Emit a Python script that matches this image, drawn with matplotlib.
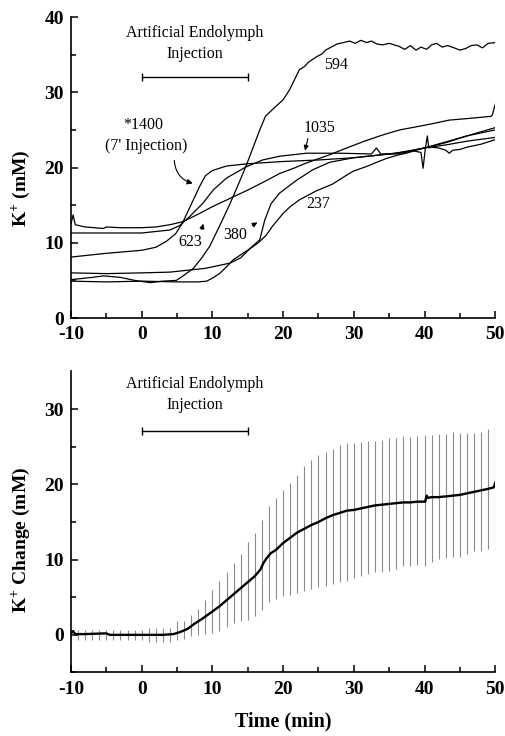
import numpy as np
import matplotlib
matplotlib.use("Agg")
import matplotlib.pyplot as plt

plt.rcParams['font.family'] = ['Liberation Serif', 'DejaVu Serif']
plt.rcParams['mathtext.fontset'] = 'custom'
plt.rcParams['mathtext.rm'] = 'Liberation Serif'
plt.rcParams['mathtext.bf'] = 'Liberation Serif:bold'
plt.rcParams['axes.unicode_minus'] = False

# ---- top panel: individual K+ traces (min, mM) ----
t_1400 = [-10, -5, 0, 2, 3.5, 4.8, 5.8, 7.3, 8.2, 9, 10, 12, 15, 20, 25, 30, 35, 38, 40, 43, 46, 50]
k_1400 = [8.1, 8.6, 9.0, 9.4, 10.2, 11.2, 12.7, 15.7, 17.5, 18.9, 19.6, 20.2, 20.5, 20.8, 21.0, 21.3,
          21.8, 22.2, 22.6, 23.3, 24.2, 25.3]

t_1035 = [-10, -5, 0, 4, 5.4, 6.8, 8.7, 10.1, 12, 14.8, 17.1, 19.5, 23.3, 28, 32.5, 33.2, 33.8, 36,
          38, 40, 43, 46, 50]
k_1035 = [11.3, 11.3, 11.3, 11.7, 12.3, 13.5, 15.3, 17.0, 18.6, 20.1, 21.0, 21.5, 21.9, 21.9, 21.8,
          22.6, 21.8, 21.8, 22.1, 22.6, 23.0, 23.5, 24.0]

t_623 = [-10, -9.7, -9.4, -8, -5.4, -5, -3, 0, 2, 4, 5.8, 8, 10, 12.5, 15, 17.5, 19.5, 21.5, 23.3,
         26.6, 29, 31.5, 34, 36.5, 38.8, 41, 43.5, 46, 49.4, 49.6, 50]
k_623 = [12.5, 13.7, 12.4, 12.1, 11.9, 12.1, 12.0, 12.0, 12.1, 12.4, 12.8, 13.8, 14.8, 15.9, 17.0,
         18.2, 19.2, 19.9, 20.6, 21.7, 22.6, 23.5, 24.3, 25.0, 25.4, 25.8, 26.3, 26.5, 26.8, 27.0, 28.4]

t_594 = [-10, -7, -5.4, -3, -1, 1.2, 3, 4.9, 6, 7.3, 8.5, 9.6, 11, 12.4, 13.6, 14.8, 16.7, 17.5,
         18.6, 20, 20.9, 22.3, 23, 23.6, 24.7, 25.5, 26, 27, 27.6, 28.5, 29.4, 30.2, 31, 31.8, 32.5,
         33.3, 34.1, 35, 36.4, 37.2, 38, 38.8, 39.5, 40.3, 41, 41.7, 42.5, 43.3, 44.2, 45, 45.8,
         46.6, 47.4, 48.2, 49, 50]
k_594 = [5.1, 5.4, 5.6, 5.4, 5.0, 4.7, 4.9, 5.0, 5.7, 6.6, 8.0, 9.5, 12.2, 15.0, 17.6, 20.3, 25.0,
         26.8, 27.8, 29.0, 30.3, 33.0, 33.4, 34.0, 34.7, 35.1, 35.6, 36.1, 36.4, 36.6, 36.8, 36.5,
         36.9, 36.6, 36.8, 36.4, 36.3, 36.5, 36.1, 35.7, 36.2, 35.6, 36.0, 35.7, 36.3, 36.5, 36.0,
         36.2, 35.9, 35.6, 35.8, 36.2, 36.3, 35.9, 36.5, 36.6]

t_380 = [-10, -5, 0, 4, 7, 9, 11, 12.5, 14, 15.5, 16.7, 17.4, 18.3, 19.5, 21.9, 24.2, 26.6, 30,
         33, 36, 40, 43, 46, 50]
k_380 = [6.0, 5.9, 6.0, 6.1, 6.4, 6.6, 7.0, 7.3, 8.0, 9.4, 10.4, 13.0, 15.2, 16.6, 18.3, 19.7,
         20.7, 21.3, 21.6, 21.9, 22.6, 23.4, 24.2, 25.0]

t_237 = [-10, -5, 0, 5, 8, 9.2, 10, 11, 12, 12.9, 14, 15.3, 16.5, 17.6, 18.5, 20, 21, 22.3, 23.5,
         24.7, 26, 27, 28.5, 29.9, 31.7, 33, 34.6, 36, 37.4, 38.5, 39.5, 39.8, 40.1, 40.4, 40.6, 41,
         42, 43, 43.5, 44, 45, 46, 47, 48, 49, 50]
k_237 = [4.9, 4.8, 4.9, 4.8, 4.8, 4.9, 5.3, 5.9, 6.8, 7.7, 8.4, 9.2, 10.0, 11.0, 12.2, 13.9, 14.8,
         15.7, 16.3, 16.9, 17.4, 17.8, 18.7, 19.5, 20.1, 20.6, 21.2, 21.6, 21.9, 22.2, 22.0, 19.9,
         22.4, 24.2, 22.6, 22.7, 22.6, 22.3, 21.9, 22.3, 22.4, 22.7, 22.9, 23.1, 23.4, 23.7]

traces = [(t_1400, k_1400), (t_1035, k_1035), (t_623, k_623),
          (t_594, k_594), (t_380, k_380), (t_237, k_237)]

# ---- bottom panel: mean K+ change with SD bars ----
t_mean = [-10, -9.7, -9.4, -8, -5, -4.5, 0, 3, 4.5, 5.5, 6.5, 7.5, 8.5, 10, 11, 12, 13, 14, 15, 16,
          16.8, 17.2, 17.6, 18.2, 19, 20, 21, 22, 23, 24, 25, 26, 27, 28, 29, 30, 31, 32, 33, 34,
          35, 36, 37, 38, 39, 40.1, 40.3, 40.5, 41, 42, 43, 44, 45, 46, 47, 48, 49, 49.8, 50]
k_mean = [0.2, 0.5, 0.1, 0.1, 0.2, 0.0, 0.0, 0.0, 0.1, 0.4, 0.8, 1.5, 2.1, 3.1, 3.8, 4.6, 5.4, 6.2,
          7.0, 7.8, 8.7, 9.5, 10.1, 10.8, 11.3, 12.2, 12.9, 13.6, 14.1, 14.6, 15.0, 15.5, 15.9,
          16.2, 16.5, 16.6, 16.8, 17.0, 17.2, 17.3, 17.4, 17.5, 17.6, 17.6, 17.7, 17.7, 18.5, 18.2,
          18.3, 18.3, 18.4, 18.5, 18.6, 18.8, 19.0, 19.2, 19.4, 19.6, 20.2]

t_bar = list(range(-10, 51))
bar_hi = [0.7] * 11 + [0.9, 0.9, 0.9, 0.95, 1.8, 1.9, 2.7, 3.5, 4.6, 5.9, 7.1, 8.4, 9.6, 10.8,
                       12.3, 13.5, 15.3, 17.1, 18.2, 19.3, 20.2, 21.2, 22.4, 23.2, 23.9, 24.3,
                       24.7, 25.2, 25.5, 25.5, 25.6, 25.7, 25.8, 25.9, 26.1, 26.1, 26.4, 26.3,
                       26.4, 26.6, 26.6, 26.7, 26.7, 27.0, 26.8, 26.8, 26.8, 27.0, 27.3, 27.9]
bar_lo = [-0.7] * 11 + [-0.9, -0.9, -0.9, -0.9, -0.7, -0.5, -0.2, 0.0, 0.1, 0.2, 0.5, 1.0, 1.6,
                        1.8, 2.0, 2.5, 3.3, 4.3, 4.7, 5.1, 5.3, 5.5, 5.8, 6.1, 6.3, 6.5, 6.8,
                        7.0, 7.2, 7.5, 7.8, 8.1, 8.3, 8.4, 8.5, 8.7, 9.1, 9.2, 9.3, 9.1, 9.7,
                        10.1, 10.2, 10.4, 10.4, 10.8, 11.1, 11.2, 11.4, 12.1]


def style_axes(ax, ylim, yticks, yminor):
    ax.spines['top'].set_visible(False)
    ax.spines['right'].set_visible(False)
    for s in ('left', 'bottom'):
        ax.spines[s].set_linewidth(1.2)
    ax.set_xlim(-10, 50)
    ax.set_ylim(*ylim)
    ax.set_xticks(range(-10, 51, 10))
    ax.set_xticks(range(-5, 50, 10), minor=True)
    ax.set_yticks(yticks)
    ax.set_yticks(yminor, minor=True)
    ax.tick_params(which='major', direction='in', length=5, width=1.1, labelsize=14, pad=5)
    ax.tick_params(axis='x', which='major', pad=6)
    ax.tick_params(which='minor', direction='in', length=3.5, width=1.1)
    for lab in ax.get_xticklabels() + ax.get_yticklabels():
        lab.set_fontweight('bold')


fig = plt.figure(figsize=(5.05, 7.36), dpi=100)
ax1 = fig.add_axes([0.1406, 0.5679, 0.8400, 0.409])
ax2 = fig.add_axes([0.1406, 0.0863, 0.8400, 0.409])

# top panel
for t, k in traces:
    ax1.plot(t, k, color='black', lw=0.9)
style_axes(ax1, (0, 40), range(0, 41, 10), range(5, 40, 10))
ax1.set_ylabel(r'K$^\mathbf{+}$ (mM)', fontsize=14, fontweight='bold')
ax1.yaxis.set_label_coords(-0.09, 0.43)

ax1.text(7.5, 37.9, 'Artificial Endolymph', ha='center', va='center', fontsize=11.5)
ax1.text(7.5, 35.1, 'Injection', ha='center', va='center', fontsize=11.5)
ax1.errorbar(7.5, 32, xerr=7.5, color='black', lw=1, capsize=3, capthick=1)

ax1.text(0.2, 25.6, '*1400', ha='center', va='center', fontsize=11.5)
ax1.text(0.7, 22.9, "(7' Injection)", ha='center', va='center', fontsize=11.5)
ax1.annotate('', xy=(7.6, 17.8), xytext=(4.6, 21.3),
             arrowprops=dict(arrowstyle='-|>', color='black', lw=0.8, mutation_scale=8,
                             connectionstyle='arc3,rad=0.4'))
ax1.text(27.5, 33.6, '594', ha='center', va='center', fontsize=11.5)
ax1.text(25.2, 25.2, '1035', ha='center', va='center', fontsize=11.5)
ax1.annotate('', xy=(23.0, 21.9), xytext=(23.6, 24.2),
             arrowprops=dict(arrowstyle='-|>', color='black', lw=0.8, mutation_scale=7))
ax1.text(6.8, 10.1, '623', ha='center', va='center', fontsize=11.5)
ax1.annotate('', xy=(8.8, 12.9), xytext=(8.4, 11.4),
             arrowprops=dict(arrowstyle='-|>', color='black', lw=0.8, mutation_scale=7))
ax1.text(13.2, 11.0, '380', ha='center', va='center', fontsize=11.5)
ax1.annotate('', xy=(16.7, 12.9), xytext=(15.3, 12.1),
             arrowprops=dict(arrowstyle='-|>', color='black', lw=0.8, mutation_scale=7))
ax1.text(24.9, 15.1, '237', ha='center', va='center', fontsize=11.5)

# bottom panel
ax2.vlines(t_bar, bar_lo, bar_hi, color='0.55', lw=0.8)
ax2.plot(t_mean, k_mean, color='black', lw=1.7)
style_axes(ax2, (-5, 35), range(0, 31, 10), range(-5, 35, 10))
ax2.set_ylabel(r'K$^\mathbf{+}$ Change (mM)', fontsize=14, fontweight='bold')
ax2.yaxis.set_label_coords(-0.09, 0.44)
ax2.set_xlabel('Time (min)', fontsize=14.5, fontweight='bold', labelpad=10)

ax2.text(7.5, 33.4, 'Artificial Endolymph', ha='center', va='center', fontsize=11.5)
ax2.text(7.5, 30.5, 'Injection', ha='center', va='center', fontsize=11.5)
ax2.errorbar(7.5, 27.05, xerr=7.5, color='black', lw=1, capsize=3, capthick=1)

fig.savefig('out.png', dpi=100)
